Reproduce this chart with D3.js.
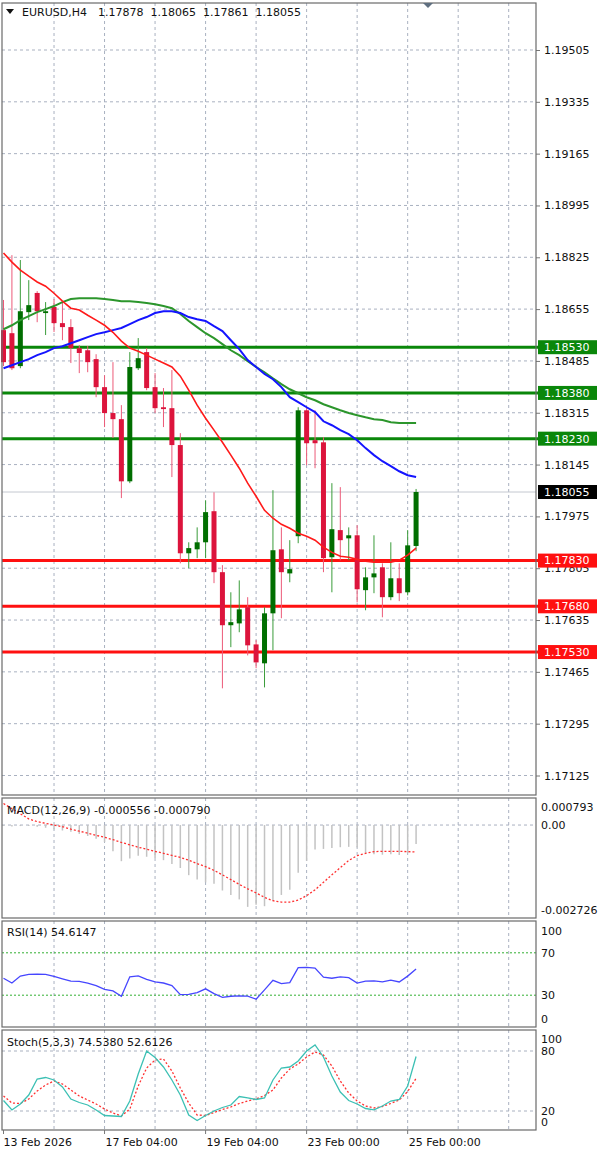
<!DOCTYPE html>
<meta charset="utf-8">
<script src="https://d3js.org/d3.v7.min.js"></script>
<style>
  body { margin: 0; background: #fff; }
  svg text { font-family: "DejaVu Sans", sans-serif; font-size: 11px; fill: #111; }
</style>
<div id="chart"></div>
<script>

// EURUSD H4 candles
var open  = [1.18586,1.18576,1.18468,1.18645,1.18708,1.18642,1.18662,1.18609,1.18596,1.18527,
             1.18520,1.18491,1.18399,1.18314,1.18294,1.18090,1.18461,1.18514,1.18399,1.18333,
             1.18330,1.18209,1.17854,1.17867,1.17890,1.17992,1.17792,1.17618,1.17624,1.17677,
             1.17555,1.17493,1.17657,1.17867,1.17788,1.17910,1.18323,1.18225,1.18218,1.17841,
             1.17930,1.17903,1.17913,1.17733,1.17775,1.17808,1.17710,1.17772,1.17726,1.17878];
var high  = [1.18685,1.18832,1.18816,1.18750,1.18714,1.18678,1.18688,1.18678,1.18622,1.18537,
             1.18534,1.18507,1.18438,1.18481,1.18340,1.18514,1.18560,1.18527,1.18445,1.18396,
             1.18455,1.18248,1.17890,1.17939,1.18028,1.18054,1.17815,1.17726,1.17765,1.17710,
             1.17569,1.17677,1.18061,1.17939,1.17897,1.18333,1.18333,1.18323,1.18235,1.18084,
             1.18071,1.17939,1.17946,1.17808,1.17913,1.17821,1.17890,1.17821,1.17930,1.18065];
var low   = [1.18468,1.18455,1.18461,1.18619,1.18612,1.18570,1.18580,1.18553,1.18478,1.18445,
             1.18448,1.18366,1.18268,1.18232,1.18035,1.18084,1.18455,1.18389,1.18314,1.18268,
             1.18104,1.17821,1.17805,1.17838,1.17838,1.17756,1.17411,1.17546,1.17595,1.17519,
             1.17477,1.17414,1.17536,1.17641,1.17759,1.17887,1.18143,1.18133,1.17792,1.17726,
             1.17831,1.17831,1.17693,1.17667,1.17723,1.17644,1.17700,1.17697,1.17716,1.17861];
var close = [1.18481,1.18461,1.18648,1.18668,1.18648,1.18648,1.18609,1.18596,1.18527,1.18511,
             1.18481,1.18399,1.18314,1.18294,1.18090,1.18465,1.18494,1.18396,1.18330,1.18327,
             1.18209,1.17854,1.17871,1.17890,1.17989,1.17792,1.17618,1.17628,1.17670,1.17552,
             1.17496,1.17657,1.17864,1.17792,1.17802,1.18323,1.18215,1.18215,1.17838,1.17933,
             1.17897,1.17913,1.17736,1.17775,1.17788,1.17710,1.17772,1.17723,1.17880,1.18055];

// moving averages
var maRed   = [1.18839,1.18809,1.18783,1.18763,1.18744,1.18730,1.18707,1.18681,1.18658,1.18652,
               1.18635,1.18619,1.18602,1.18579,1.18550,1.18527,1.18517,1.18504,1.18491,1.18478,
               1.18465,1.18435,1.18389,1.18340,1.18297,1.18258,1.18218,1.18176,1.18133,1.18084,
               1.18041,1.17995,1.17969,1.17949,1.17936,1.17920,1.17910,1.17897,1.17874,1.17857,
               1.17844,1.17841,1.17834,1.17828,1.17825,1.17825,1.17825,1.17831,1.17848,1.17871];
var maBlue  = [1.18461,1.18471,1.18481,1.18491,1.18504,1.18514,1.18527,1.18533,1.18543,1.18553,
               1.18563,1.18573,1.18579,1.18586,1.18593,1.18606,1.18619,1.18629,1.18642,1.18648,
               1.18648,1.18642,1.18629,1.18622,1.18616,1.18599,1.18583,1.18553,1.18524,1.18488,
               1.18465,1.18442,1.18425,1.18399,1.18366,1.18350,1.18333,1.18317,1.18287,1.18274,
               1.18258,1.18245,1.18225,1.18199,1.18176,1.18156,1.18140,1.18123,1.18110,1.18104];
var maGreen = [1.18589,1.18602,1.18619,1.18632,1.18645,1.18655,1.18665,1.18678,1.18688,1.18691,
               1.18691,1.18691,1.18688,1.18685,1.18681,1.18681,1.18678,1.18675,1.18671,1.18665,
               1.18658,1.18639,1.18616,1.18596,1.18576,1.18560,1.18540,1.18520,1.18504,1.18484,
               1.18465,1.18448,1.18428,1.18409,1.18392,1.18379,1.18366,1.18356,1.18343,1.18333,
               1.18323,1.18314,1.18307,1.18300,1.18294,1.18291,1.18284,1.18281,1.18281,1.18281];

// MACD(12,26,9)
var macdMain = [-0.00002,-0.00004,-0.00003,-0.00003,-0.00005,-0.00008,-0.00012,-0.00016,-0.00020,-0.00026,
                -0.00032,-0.00040,-0.00050,-0.00077,-0.00106,-0.00098,-0.00090,-0.00093,-0.00097,-0.00103,
                -0.00114,-0.00126,-0.00147,-0.00160,-0.00168,-0.00172,-0.00192,-0.00205,-0.00218,-0.00240,
                -0.00234,-0.00238,-0.00222,-0.00205,-0.00190,-0.00140,-0.00105,-0.00072,-0.00070,-0.00067,
                -0.00065,-0.00064,-0.00066,-0.00082,-0.00086,-0.00087,-0.00086,-0.00088,-0.00082,-0.000556];
var macdSignal = [0.00063,0.00048,0.00033,0.00018,0.00010,0.00005,0.00000,-0.00005,-0.00012,-0.00018,
                  -0.00024,-0.00030,-0.00036,-0.00043,-0.00051,-0.00058,-0.00065,-0.00071,-0.00077,-0.00083,
                  -0.00089,-0.00095,-0.00103,-0.00113,-0.00122,-0.00133,-0.00146,-0.00160,-0.00174,-0.00187,
                  -0.00199,-0.00212,-0.00222,-0.00226,-0.00226,-0.00220,-0.00207,-0.00190,-0.00168,-0.00146,
                  -0.00125,-0.00104,-0.00090,-0.00083,-0.00078,-0.00077,-0.00077,-0.00077,-0.00078,-0.00079];

// RSI(14)
var rsi = [46,41.5,48,49.7,49.8,49.7,47.8,45.5,43.2,43,
           41.5,39,35.5,34,29,47.4,48.3,45,42.5,41.5,
           39,30.5,30.7,32.5,36,31.5,28,29,29.3,29.1,
           26.3,35,44,41,41.8,56,56.3,55.5,47,46,
           47.2,46.5,41.5,43.3,43.5,42.5,44.3,42.5,48,54.6];

// Stoch(5,3,3)
var stochK = [30.5,21,27,36,52,53.5,51,44,32,28.5,
              26,21,15.5,15,14.5,30,57,80,73.5,64,
              51,36,16,10.5,15.5,20,23.5,26,34.5,33.2,
              31.5,33,51,63,64,70,80,86,74,55,
              39,30.5,27,22.5,21.2,25,30,31.5,45,74.5];
var stochD = [35,28,27.5,32,40,46,50,47,41,35,
              31,27,22,18,15,22,45,63,71,72,
              60,43,28,16,15.5,18.5,21.5,24,27.5,30,
              32,35.5,41,53,62,67,74,79,76,65,
              50,38,30,25,23,24.5,27.5,31,39.5,52.6];

var priceTicks = ["1.19505","1.19335","1.19165","1.18995","1.18825","1.18655","1.18485","1.18315",
                  "1.18145","1.17975","1.17805","1.17635","1.17465","1.17295","1.17125"];
var greenLevels = ["1.18530", "1.18380", "1.18230"];
var redLevels = ["1.17830", "1.17680", "1.17530"];
var lastPrice = "1.18055";

var dateLabels = ["13 Feb 2026", "17 Feb 04:00", "19 Feb 04:00", "23 Feb 00:00", "25 Feb 00:00"];
var dateBars = [0, 12, 24, 36, 48];

var W = 600, H = 1150, L = 2, R = 536;
var panels = {
  main:  {top: 3,    bottom: 795},
  macd:  {top: 798,  bottom: 918},
  rsi:   {top: 921,  bottom: 1027},
  stoch: {top: 1030, bottom: 1130}
};

var svg = d3.select("#chart").append("svg")
  .attr("width", W).attr("height", H);

var x = d3.scaleLinear().domain([0, 49]).range([3.5, 3.5 + 49 * 8.42]);
var gridBars = d3.range(6, 63, 6);

var y = d3.scaleLinear().domain([1.17125, 1.19505]).range([775.5, 50]);
var yMacd = d3.scaleLinear().domain([-0.002726, 0.000793]).range([918, 798]);
var yRsi = d3.scaleLinear().domain([0, 100]).range([1027, 921]);
var yStoch = d3.scaleLinear().domain([0, 100]).range([1131, 1031]);

var gridCol = "#a9b1c0";

// vertical grid in every panel
Object.keys(panels).forEach(function(k) {
  var p = panels[k];
  svg.append("g").selectAll("line").data(gridBars).enter().append("line")
    .attr("x1", function(d) { return x(d); }).attr("x2", function(d) { return x(d); })
    .attr("y1", p.top).attr("y2", p.bottom)
    .attr("stroke", gridCol).attr("stroke-dasharray", "3,3");
});

// horizontal price grid
svg.append("g").selectAll("line").data(priceTicks).enter().append("line")
  .attr("x1", L).attr("x2", R)
  .attr("y1", function(d) { return y(+d); }).attr("y2", function(d) { return y(+d); })
  .attr("stroke", gridCol).attr("stroke-dasharray", "3,3");

// current price line
svg.append("line").attr("x1", L).attr("x2", R)
  .attr("y1", y(+lastPrice)).attr("y2", y(+lastPrice))
  .attr("stroke", "#c4c8d0");

// level lines
svg.append("g").selectAll("line").data(greenLevels).enter().append("line")
  .attr("x1", L).attr("x2", 540)
  .attr("y1", function(d) { return y(+d); }).attr("y2", function(d) { return y(+d); })
  .attr("stroke", "#0a870a").attr("stroke-width", 3);
svg.append("g").selectAll("line").data(redLevels).enter().append("line")
  .attr("x1", L).attr("x2", 540)
  .attr("y1", function(d) { return y(+d); }).attr("y2", function(d) { return y(+d); })
  .attr("stroke", "#ff1010").attr("stroke-width", 3);

// candles
var bars = d3.range(open.length).map(function(i) {
  return {i: i, o: open[i], h: high[i], l: low[i], c: close[i], up: close[i] >= open[i]};
});
var cg = svg.append("g");
cg.selectAll("line").data(bars).enter().append("line")
  .attr("x1", function(d) { return x(d.i); }).attr("x2", function(d) { return x(d.i); })
  .attr("y1", function(d) { return y(d.h); }).attr("y2", function(d) { return y(d.l); })
  .attr("stroke", function(d) { return d.up ? "#3a9c3a" : "#ec5a78"; });
cg.selectAll("rect").data(bars).enter().append("rect")
  .attr("x", function(d) { return x(d.i) - 2.5; })
  .attr("width", 5)
  .attr("y", function(d) { return y(Math.max(d.o, d.c)); })
  .attr("height", function(d) { return Math.max(1.5, Math.abs(y(d.o) - y(d.c))); })
  .attr("fill", function(d) { return d.up ? "#006e00" : "#dc143c"; });

// moving averages
var priceLine = d3.line().x(function(d, i) { return x(i); }).y(function(d) { return y(d); });
svg.append("path").attr("d", priceLine(maGreen)).attr("fill", "none")
  .attr("stroke", "#2c962c").attr("stroke-width", 2);
svg.append("path").attr("d", priceLine(maBlue)).attr("fill", "none")
  .attr("stroke", "#1414ff").attr("stroke-width", 2);
svg.append("path").attr("d", priceLine(maRed)).attr("fill", "none")
  .attr("stroke", "#ff1a1a").attr("stroke-width", 1.6);

// price axis
var yAxis = d3.axisRight(y).tickValues(priceTicks.map(Number)).tickSize(4).tickPadding(4)
  .tickFormat(function(d, i) { return priceTicks[i]; });
var ax = svg.append("g").attr("transform", "translate(" + R + ",0)").call(yAxis);
ax.select(".domain").remove();
ax.selectAll("line").attr("stroke", "#777");
ax.selectAll("text").attr("font-family", "DejaVu Sans").attr("font-size", 11).attr("fill", "#222");

// price label boxes
function priceBox(v, fill) {
  svg.append("rect").attr("x", 538).attr("y", y(+v) - 7).attr("width", 59).attr("height", 14)
    .attr("fill", fill);
  svg.append("text").attr("x", 544).attr("y", y(+v)).attr("dy", "0.35em")
    .style("fill", "#fff").text(v);
}
greenLevels.forEach(function(v) { priceBox(v, "#0a870a"); });
redLevels.forEach(function(v) { priceBox(v, "#ff1010"); });
priceBox(lastPrice, "#000");

// MACD panel
svg.append("line").attr("x1", L).attr("x2", R).attr("y1", yMacd(0)).attr("y2", yMacd(0))
  .attr("stroke", gridCol).attr("stroke-dasharray", "3,3");
svg.append("g").selectAll("line").data(macdMain).enter().append("line")
  .attr("x1", function(d, i) { return x(i); }).attr("x2", function(d, i) { return x(i); })
  .attr("y1", yMacd(0)).attr("y2", function(d) { return yMacd(d); })
  .attr("stroke", "#c3c3c3").attr("stroke-width", 1.5);
svg.append("path")
  .attr("d", d3.line().x(function(d, i) { return x(i); }).y(function(d) { return yMacd(d); })(macdSignal))
  .attr("fill", "none").attr("stroke", "#ff3030").attr("stroke-width", 1.3).attr("stroke-dasharray", "2,2");

// RSI panel
[70, 30].forEach(function(v) {
  svg.append("line").attr("x1", L).attr("x2", R).attr("y1", yRsi(v)).attr("y2", yRsi(v))
    .attr("stroke", "#33b033").attr("stroke-dasharray", "2,2");
});
svg.append("path")
  .attr("d", d3.line().x(function(d, i) { return x(i); }).y(function(d) { return yRsi(d); })(rsi))
  .attr("fill", "none").attr("stroke", "#4646ff").attr("stroke-width", 1.3);

// Stochastic panel
[80, 20].forEach(function(v) {
  svg.append("line").attr("x1", L).attr("x2", R).attr("y1", yStoch(v)).attr("y2", yStoch(v))
    .attr("stroke", gridCol).attr("stroke-dasharray", "3,3");
});
svg.append("path")
  .attr("d", d3.line().x(function(d, i) { return x(i); }).y(function(d) { return yStoch(d); })(stochD))
  .attr("fill", "none").attr("stroke", "#ff3030").attr("stroke-width", 1.3).attr("stroke-dasharray", "2,2");
svg.append("path")
  .attr("d", d3.line().x(function(d, i) { return x(i); }).y(function(d) { return yStoch(d); })(stochK))
  .attr("fill", "none").attr("stroke", "#3cc0b4").attr("stroke-width", 1.3);

// panel frames
Object.keys(panels).forEach(function(k) {
  var p = panels[k];
  svg.append("rect").attr("x", L).attr("y", p.top).attr("width", R - L).attr("height", p.bottom - p.top)
    .attr("fill", "none").attr("stroke", "#6a6a6a").attr("stroke-width", 1.2);
});

// indicator scales (right side)
function sideLabel(txt, yy) {
  svg.append("text").attr("x", 541).attr("y", yy).attr("dy", "0.35em").text(txt);
}
sideLabel("0.000793", yMacd(0.000793) + 9);
sideLabel("0.00", yMacd(0));
sideLabel("-0.002726", yMacd(-0.002726) - 8);
sideLabel("100", yRsi(100) + 10);
sideLabel("70", yRsi(70));
sideLabel("30", yRsi(30));
sideLabel("0", yRsi(0) - 8);
sideLabel("100", yStoch(100) + 8);
sideLabel("80", yStoch(80));
sideLabel("20", yStoch(20));
sideLabel("0", yStoch(0) - 9);

// indicator titles
svg.append("text").attr("x", 7).attr("y", 810).attr("dy", "0.35em").text("MACD(12,26,9) -0.000556 -0.000790");
svg.append("text").attr("x", 7).attr("y", 932).attr("dy", "0.35em").text("RSI(14) 54.6147");
svg.append("text").attr("x", 7).attr("y", 1042).attr("dy", "0.35em").text("Stoch(5,3,3) 74.5380 52.6126");

// header
svg.append("path").attr("d", "M6,9L14,9L10,14Z").attr("fill", "#111");
var hdr = svg.append("text").attr("y", 12).attr("dy", "0.35em");
hdr.append("tspan").attr("x", 22).text("EURUSD,H4");
["1.17878", "1.18065", "1.17861", "1.18055"].forEach(function(t, i) {
  hdr.append("tspan").attr("x", 98 + i * 52.5).text(t);
});

// chart shift marker
svg.append("path").attr("d", "M423,3L433,3L428,8Z").attr("fill", "#5f6f80");

// time axis
svg.append("g").selectAll("line").data(dateBars).enter().append("line")
  .attr("x1", function(d) { return x(d); }).attr("x2", function(d) { return x(d); })
  .attr("y1", 1130).attr("y2", 1134).attr("stroke", "#777");
svg.append("g").selectAll("text").data(dateLabels).enter().append("text")
  .attr("x", function(d, i) { return x(dateBars[i]) + (i === 0 ? 0 : 1); })
  .attr("y", 1142).attr("dy", "0.35em")
  .text(function(d) { return d; });

</script>
